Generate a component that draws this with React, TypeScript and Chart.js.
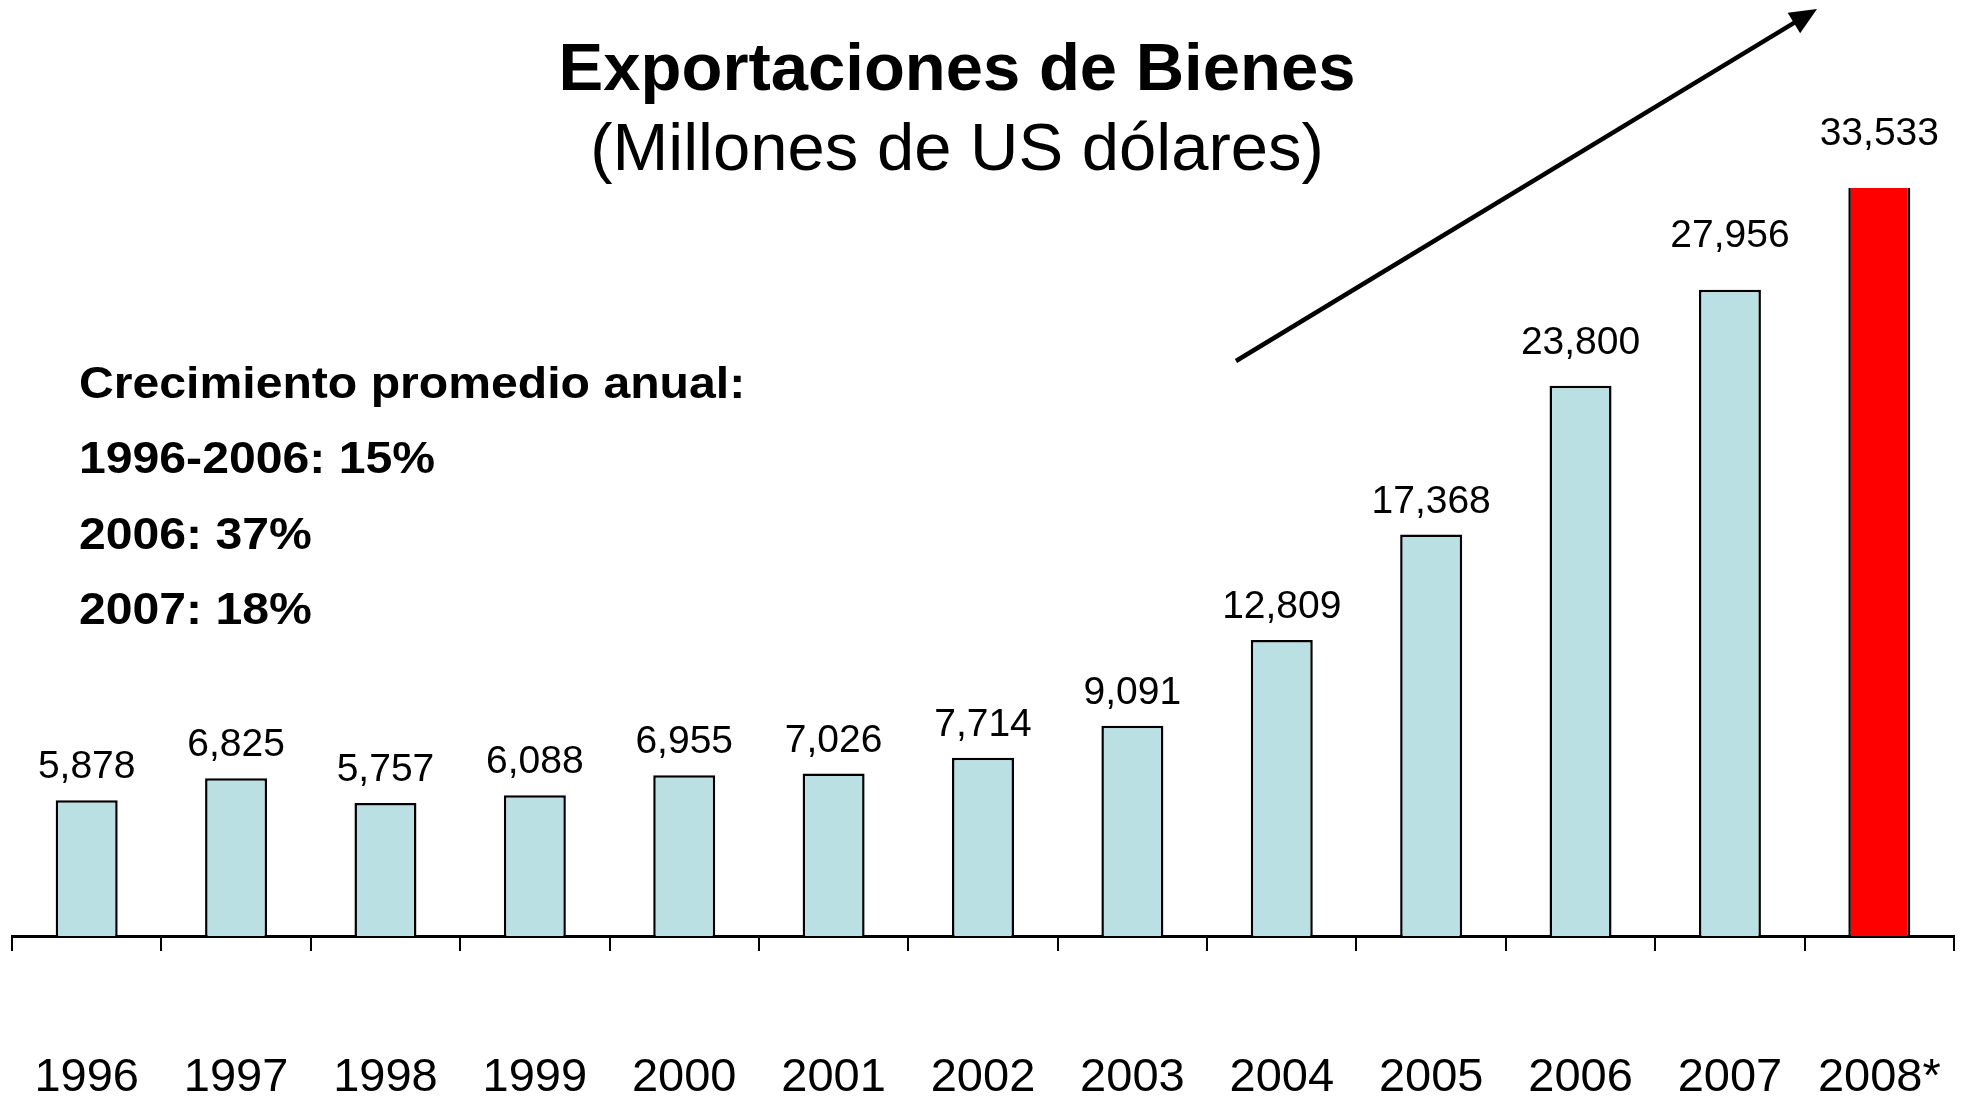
import { useEffect, useRef } from 'react';
import { Chart, registerables } from 'chart.js';

Chart.register(...registerables);

const years = ['1996', '1997', '1998', '1999', '2000', '2001', '2002', '2003', '2004', '2005', '2006', '2007', '2008*'];
const exportsValues = [5878, 6825, 5757, 6088, 6955, 7026, 7714, 9091, 12809, 17368, 23800, 27956, 33533];
const barFill = ['#BBE0E3', '#BBE0E3', '#BBE0E3', '#BBE0E3', '#BBE0E3', '#BBE0E3', '#BBE0E3', '#BBE0E3', '#BBE0E3', '#BBE0E3', '#BBE0E3', '#BBE0E3', '#FF0000'];
const titleText = 'Exportaciones de Bienes';
const subtitleText = '(Millones de US dólares)';
const noteLines = ['Crecimiento promedio anual:', '1996-2006: 15%', '2006: 37%', '2007: 18%'];
const yAxisMax = 32360;

const FONT = '"Liberation Sans", Arial, Helvetica, sans-serif';
// manual lift of some value labels (as placed in the original slide)
const labelLift = [0, 0, 0, 0, 0, 0, 0, 0, 0, 0, 10, 21, 21];

const overlayPlugin = {
  id: 'overlay',
  afterDatasetsDraw(chart: any) {
    const ctx = chart.ctx as CanvasRenderingContext2D;
    const meta = chart.getDatasetMeta(0);
    ctx.save();
    ctx.fillStyle = '#000';
    ctx.font = `39px ${FONT}`;
    ctx.textAlign = 'center';
    ctx.textBaseline = 'alphabetic';
    meta.data.forEach((bar: any, i: number) => {
      const top = Math.max(bar.y, chart.chartArea.top);
      ctx.fillText(exportsValues[i].toLocaleString('en-US'), bar.x, top - 22 - labelLift[i]);
    });
    ctx.restore();
  },
  afterDraw(chart: any) {
    const ctx = chart.ctx as CanvasRenderingContext2D;
    ctx.save();
    ctx.fillStyle = '#000';
    ctx.textAlign = 'center';
    ctx.textBaseline = 'alphabetic';
    ctx.font = `bold 67px ${FONT}`;
    ctx.fillText(titleText, 957, 90);
    ctx.font = `67px ${FONT}`;
    ctx.fillText(subtitleText, 957, 170);

    // growth note
    ctx.textAlign = 'left';
    ctx.font = `bold 45px ${FONT}`;
    noteLines.forEach((line, i) => {
      ctx.save();
      ctx.translate(79, 398 + i * 75.3);
      ctx.scale(1.07, 1);
      ctx.fillText(line, 0, 0);
      ctx.restore();
    });

    // trend arrow
    const x0 = 1236, y0 = 361, x1 = 1817, y1 = 9;
    const len = Math.hypot(x1 - x0, y1 - y0);
    const ux = (x1 - x0) / len, uy = (y1 - y0) / len;
    const nx = -uy, ny = ux;
    const headLen = 27, headHalf = 12;
    ctx.strokeStyle = '#000';
    ctx.lineWidth = 4.5;
    ctx.lineCap = 'butt';
    ctx.beginPath();
    ctx.moveTo(x0, y0);
    ctx.lineTo(x1 - ux * (headLen - 4), y1 - uy * (headLen - 4));
    ctx.stroke();
    const bx = x1 - ux * headLen, by = y1 - uy * headLen;
    ctx.beginPath();
    ctx.moveTo(x1, y1);
    ctx.lineTo(bx + nx * headHalf, by + ny * headHalf);
    ctx.lineTo(bx - nx * headHalf, by - ny * headHalf);
    ctx.closePath();
    ctx.fill();
    ctx.restore();
  },
};

export default function App() {
  const canvasRef = useRef<HTMLCanvasElement | null>(null);

  useEffect(() => {
    document.body.style.margin = '0';
    const canvas = canvasRef.current;
    if (!canvas) return;
    const chart = new Chart(canvas, {
      type: 'bar',
      data: {
        labels: years,
        datasets: [
          {
            data: exportsValues,
            backgroundColor: barFill,
            borderColor: '#000',
            borderWidth: 2.5,
            borderSkipped: 'bottom',
            categoryPercentage: 1,
            barPercentage: 0.415,
            clip: 0,
          } as any,
        ],
      },
      options: {
        animation: false,
        responsive: false,
        maintainAspectRatio: false,
        devicePixelRatio: 1,
        layout: { padding: { top: 188, left: 12, right: 12, bottom: 0 } },
        plugins: {
          legend: { display: false },
          tooltip: { enabled: false },
          title: { display: false },
        },
        scales: {
          x: {
            offset: true,
            grid: {
              display: true,
              offset: true,
              drawOnChartArea: false,
              drawTicks: true,
              tickLength: 15,
              color: '#000',
              lineWidth: 2,
            },
            border: { display: true, color: '#000', width: 3 },
            ticks: {
              color: '#000',
              font: { size: 47, family: FONT },
              padding: 99,
              maxRotation: 0,
              autoSkip: false,
            },
            afterFit: (scale: any) => {
              scale.height = 160;
              scale.paddingLeft = 0;
              scale.paddingRight = 0;
            },
          },
          y: {
            display: false,
            min: 0,
            max: yAxisMax,
          },
        },
      },
      plugins: [overlayPlugin],
    });
    return () => chart.destroy();
  }, []);

  return (
    <div style={{ position: 'absolute', left: 0, top: 0, width: 1966, height: 1096, background: '#fff' }}>
      <canvas ref={canvasRef} width={1966} height={1096} style={{ display: 'block', width: 1966, height: 1096 }} />
    </div>
  );
}
